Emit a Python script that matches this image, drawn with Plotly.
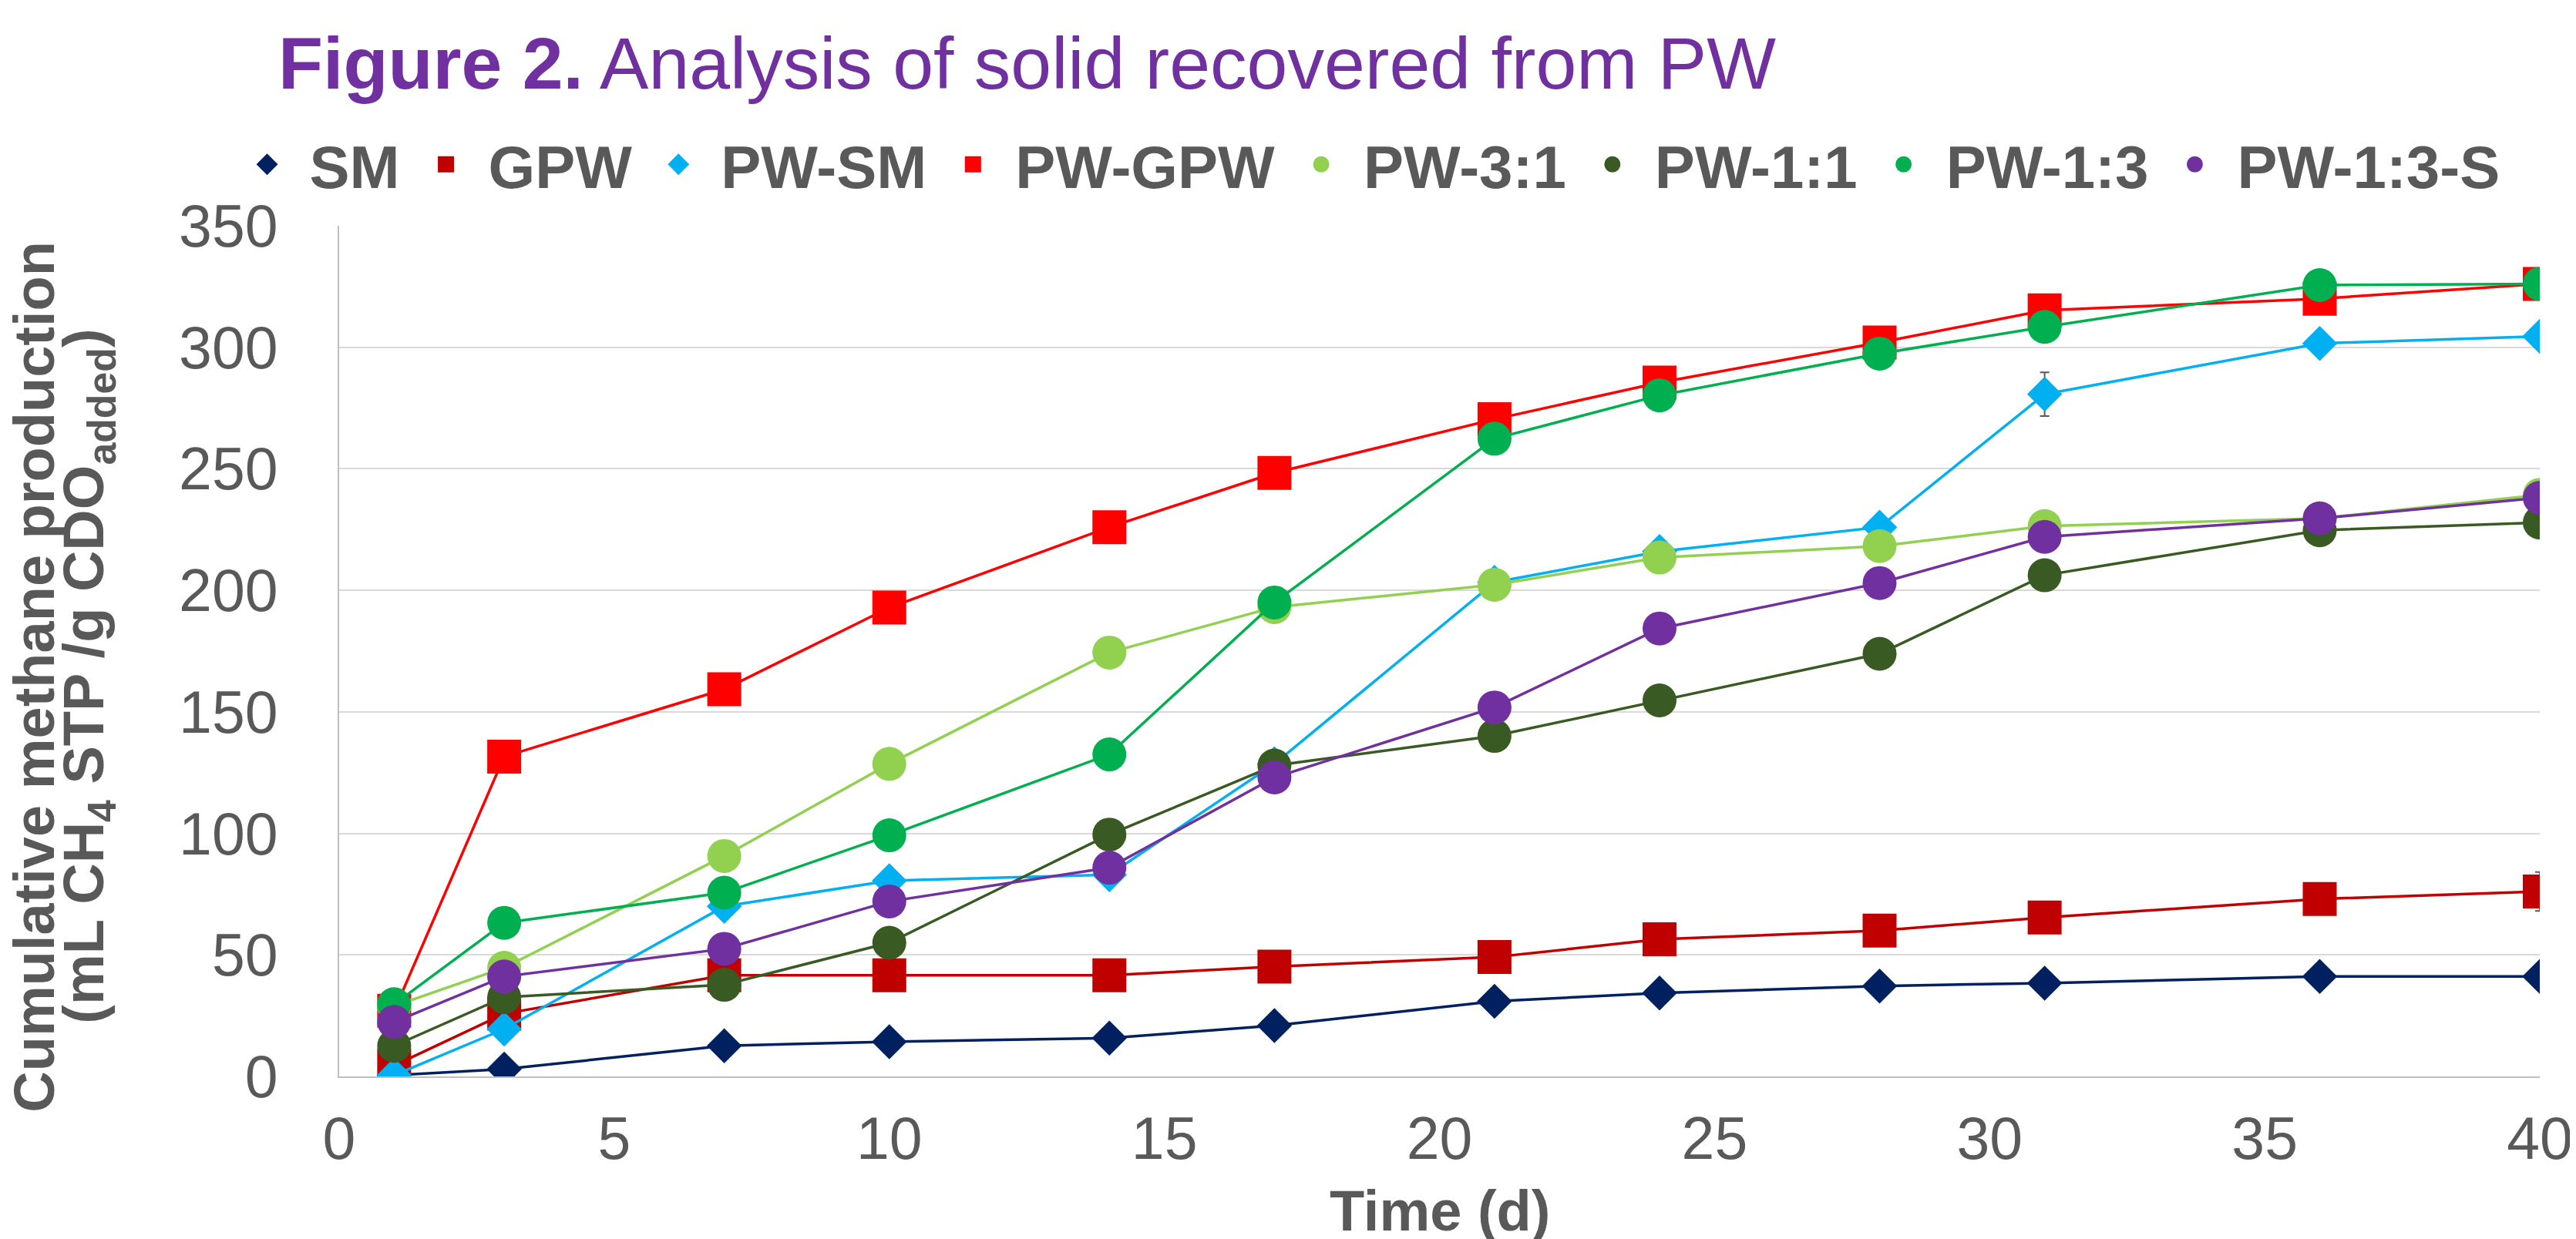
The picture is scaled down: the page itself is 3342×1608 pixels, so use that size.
import plotly.graph_objects as go

# ---- data ----
days = [1, 3, 7, 10, 14, 17, 21, 24, 28, 31, 36, 40]

sm = [0.5, 3, 12.6, 14.3, 15.8, 20.9, 30.9, 34.3, 37.2, 38.4, 41.1, 41.1]
gpw = [4.5, 25.8, 41.6, 41.6, 41.6, 45.2, 49.1, 56.4, 60.0, 65.4, 73.0, 76.1]
pw_sm = [0.5, 19.5, 70.0, 80.5, 83.0, 128.6, 203.3, 216.0, 226.0, 280.7, 301.6, 304.5]
pw_gpw = [27.0, 131.6, 159.3, 192.9, 226.0, 248.3, 270.4, 285.5, 302.0, 315.2, 320.0, 326.1]
pw_31 = [29.0, 44.7, 90.7, 128.6, 174.4, 193.1, 202.3, 213.5, 218.2, 226.4, 229.6, 239.3]
pw_11 = [12.6, 32.6, 37.7, 55.0, 99.5, 127.9, 140.1, 154.7, 173.9, 206.2, 224.7, 227.9]
pw_13 = [29.7, 63.2, 75.6, 99.2, 132.5, 195.0, 262.4, 280.2, 297.4, 308.4, 325.6, 326.1]
pw_13s = [22.4, 41.1, 52.5, 72.0, 85.9, 123.0, 151.8, 184.3, 203.0, 222.0, 229.6, 238.1]

err_gpw = [0, 0, 0, 3, 0, 0, 0, 0, 0, 0, 0, 8]
err_pw_sm = [0, 0, 3, 0, 0, 0, 0, 0, 0, 9, 0, 0]
err_pw_gpw = [0, 0, 0, 0, 0, 0, 0, 0, 0, 0, 4, 3]

series = [
    ("SM", sm, "#002060", "diamond", None),
    ("GPW", gpw, "#C00000", "square", err_gpw),
    ("PW-SM", pw_sm, "#00B0F0", "diamond", err_pw_sm),
    ("PW-GPW", pw_gpw, "#FF0000", "square", err_pw_gpw),
    ("PW-3:1", pw_31, "#92D050", "circle", None),
    ("PW-1:1", pw_11, "#3A5A24", "circle", None),
    ("PW-1:3", pw_13, "#00B050", "circle", None),
    ("PW-1:3-S", pw_13s, "#7030A0", "circle", None),
]

sizes = {"diamond": 35, "square": 44, "circle": 44}

fig = go.Figure()
for name, vals, color, sym, err in series:
    kw = {}
    if err is not None:
        kw["error_y"] = dict(type="data", array=err, visible=True,
                             color="#595959", thickness=2, width=6)
    fig.add_trace(go.Scatter(
        x=days, y=vals, name=name, mode="lines+markers", showlegend=False,
        line=dict(color=color, width=3.5),
        marker=dict(symbol=sym, size=sizes[sym], color=color,
                    line=dict(width=0)),
        **kw))

# legend entries (marker keys, as in the original legend)
for name, vals, color, sym, err in series:
    fig.add_trace(go.Scatter(
        x=[None], y=[None], name=name, mode="markers", showlegend=True,
        marker=dict(symbol=sym, size=sizes[sym], color=color,
                    line=dict(width=6, color=color))))

FONT = "Liberation Sans, Arial, sans-serif"
GREY = "#595959"

fig.update_layout(
    width=3342, height=1608,
    margin=dict(l=432, r=44, t=285, b=219, pad=0),
    paper_bgcolor="white", plot_bgcolor="white",
    font=dict(family=FONT, color=GREY, size=72),
    showlegend=True,
    legend=dict(orientation="h", x=-0.052, xanchor="left",
                y=1.072, yanchor="middle",
                font=dict(family=FONT, size=78, color=GREY, weight="bold"),
                itemsizing="trace", itemwidth=100,
                bgcolor="rgba(0,0,0,0)"),
    xaxis=dict(range=[0, 40], dtick=5, tick0=0, showgrid=False,
               showline=True, linecolor="#BFBFBF", linewidth=2,
               zeroline=False, ticks="", ticklabelstandoff=13,
               tickfont=dict(size=77, color=GREY, family=FONT)),
    yaxis=dict(range=[0, 350], dtick=50, tick0=0, showgrid=True,
               gridcolor="#D9D9D9", gridwidth=2,
               showline=True, linecolor="#BFBFBF", linewidth=2,
               zeroline=False, ticks="", ticklabelstandoff=62,
               tickfont=dict(size=77, color=GREY, family=FONT)),
)

fig.add_annotation(
    text="<b>Figure 2.</b> Analysis of solid recovered from PW",
    xref="paper", yref="paper", x=-0.0282, y=1.191,
    xanchor="left", yanchor="middle", showarrow=False,
    font=dict(family=FONT, size=95, color="#7030A0"))

fig.add_annotation(
    text="<b>Cumulative methane production</b>",
    xref="paper", yref="paper", x=-0.1385, y=0.47,
    xanchor="center", yanchor="middle", textangle=-90, showarrow=False,
    font=dict(family=FONT, size=74, color=GREY))
fig.add_annotation(
    text="<b>(mL CH<sub>4</sub> STP /g CDO<sub>added</sub>)</b>",
    xref="paper", yref="paper", x=-0.114, y=0.47,
    xanchor="center", yanchor="middle", textangle=-90, showarrow=False,
    font=dict(family=FONT, size=74, color=GREY))
fig.add_annotation(
    text="<b>Time (d)</b>",
    xref="paper", yref="paper", x=0.5, y=-0.158,
    xanchor="center", yanchor="middle", showarrow=False,
    font=dict(family=FONT, size=74, color=GREY))

fig.write_html("out.html")
